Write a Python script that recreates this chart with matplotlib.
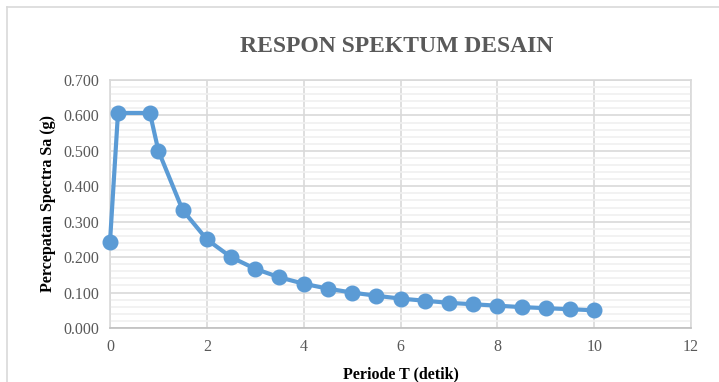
import matplotlib.pyplot as plt
from matplotlib.ticker import MultipleLocator, FormatStrFormatter
from matplotlib.lines import Line2D

# periode T (detik) vs percepatan spektra Sa (g)
periode = [0.0, 0.165, 0.824, 1.0, 1.5, 2.0, 2.5, 3.0, 3.5, 4.0, 4.5, 5.0,
           5.5, 6.0, 6.5, 7.0, 7.5, 8.0, 8.5, 9.0, 9.5, 10.0]
sa = [0.243, 0.607, 0.607, 0.500, 0.333, 0.250, 0.200, 0.167, 0.143, 0.125,
      0.111, 0.100, 0.091, 0.083, 0.077, 0.071, 0.067, 0.063, 0.059, 0.056,
      0.053, 0.050]

plt.rcParams['font.family'] = ['Liberation Serif', 'DejaVu Serif']

fig = plt.figure(figsize=(7.19, 3.82), dpi=100)
ax = fig.add_axes([110 / 719, 1 - 328 / 382, 581 / 719, 248 / 382])

ax.plot(periode, sa, color='#5B9BD5', lw=3, marker='o', ms=10.5,
        zorder=3, clip_on=False)

ax.set_xlim(0, 12)
ax.set_ylim(0, 0.7)
ax.xaxis.set_major_locator(MultipleLocator(2))
ax.yaxis.set_major_locator(MultipleLocator(0.1))
ax.yaxis.set_minor_locator(MultipleLocator(0.02))
ax.yaxis.set_major_formatter(FormatStrFormatter('%.3f'))

ax.grid(which='major', color='#D9D9D9', lw=1.2)
ax.grid(which='minor', axis='y', color='#F0F0F0', lw=1.2)
ax.set_axisbelow(True)
for s in ['top', 'right', 'left']:
    ax.spines[s].set_color('#D9D9D9')
    ax.spines[s].set_linewidth(1.2)
ax.spines['bottom'].set_color('#BFBFBF')
ax.spines['bottom'].set_linewidth(1.2)
ax.tick_params(which='both', length=0, colors='#595959', labelsize=11.5, pad=8)

ax.set_xlabel('Periode T (detik)', fontsize=11.5, fontweight='bold', labelpad=8)
ax.set_ylabel('Percepatan Spectra Sa (g)', fontsize=11.5, fontweight='bold', labelpad=5)
fig.text(397 / 719, 1 - 47 / 382, 'RESPON SPEKTUM DESAIN', ha='center', va='center',
         fontsize=17, fontweight='bold', color='#595959')

# chart area border (left and top visible)
fig.add_artist(Line2D([7 / 719, 7 / 719], [0, 1 - 7 / 382], color='#D9D9D9', lw=1.2,
                      transform=fig.transFigure))
fig.add_artist(Line2D([7 / 719, 1], [1 - 7 / 382, 1 - 7 / 382], color='#D9D9D9', lw=1.2,
                      transform=fig.transFigure))

fig.savefig('out.png', dpi=100)
